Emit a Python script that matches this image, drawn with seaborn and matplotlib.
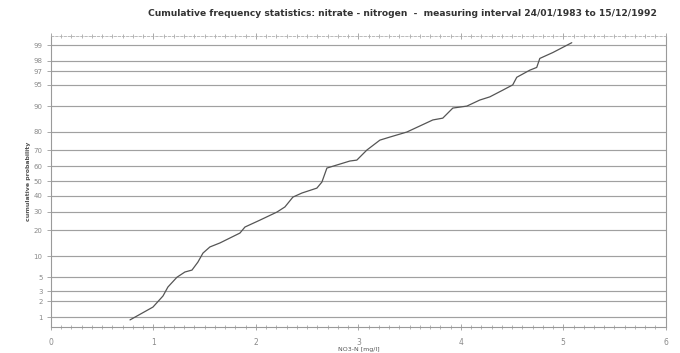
import numpy as np
import matplotlib
matplotlib.use("Agg")
import matplotlib.pyplot as plt
import seaborn as sns
from statistics import NormalDist
from matplotlib.ticker import MultipleLocator, FixedLocator, FixedFormatter

# nitrate-nitrogen concentration [mg/l] and cumulative probability [%]
nitrate_mg_l = [0.771, 0.995, 1.093, 1.141, 1.229, 1.307, 1.376, 1.434, 1.483, 1.551,
                1.649, 1.844, 1.893, 2.039, 2.205, 2.283, 2.361, 2.449, 2.595, 2.644,
                2.693, 2.917, 2.985, 3.083, 3.210, 3.307, 3.473, 3.727, 3.824, 3.922,
                4.059, 4.185, 4.283, 4.410, 4.507, 4.546, 4.673, 4.741, 4.771, 4.898,
                5.083]
cum_prob = [0.88, 1.56, 2.47, 3.5, 5.0, 6.0, 6.4, 8.3, 10.9, 13.0,
            14.5, 18.7, 21.6, 25.2, 29.8, 32.9, 39.2, 41.9, 45.2, 49.3,
            58.8, 63.4, 64.0, 70.2, 75.8, 77.4, 79.9, 85.2, 85.9, 89.4,
            90.0, 91.7, 92.5, 94.0, 95.0, 96.2, 97.1, 97.4, 98.2, 98.6,
            99.1]

prob_ticks = [1, 2, 3, 5, 10, 20, 30, 40, 50, 60, 70, 80, 90, 95, 97, 98, 99]
x_ticks = [0, 1, 2, 3, 4, 5, 6]

_nd = NormalDist()
_ppf = np.vectorize(lambda p: _nd.inv_cdf(p) if np.isfinite(p) else np.nan, otypes=[float])
_cdf = np.vectorize(lambda z: _nd.cdf(z) if np.isfinite(z) else np.nan, otypes=[float])


def prob_forward(p):
    p = np.clip(np.asarray(p, dtype=float) / 100.0, 1e-9, 1 - 1e-9)
    return _ppf(p)


def prob_inverse(z):
    return _cdf(np.asarray(z, dtype=float)) * 100.0


sns.set_style("white")
plt.rcParams['font.family'] = ['DejaVu Sans']

fig = plt.figure(figsize=(6.8, 3.53), dpi=100)
ax = fig.add_axes([0.075, 0.0737, 0.904, 0.824])

ax.set_yscale('function', functions=(prob_forward, prob_inverse))

# horizontal probability grid
for p in prob_ticks:
    ax.axhline(p, color='#a0a0a0', linewidth=0.85, zorder=1)

sns.lineplot(x=nitrate_mg_l, y=cum_prob, sort=False, color='#555555',
             linewidth=0.9, ax=ax, zorder=3)

ax.set_xlim(0, 6)
ax.set_ylim(0.63, 99.34)

ax.yaxis.set_major_locator(FixedLocator(prob_ticks))
ax.yaxis.set_major_formatter(FixedFormatter([str(p) for p in prob_ticks]))
ax.yaxis.set_minor_locator(FixedLocator([]))
ax.set_xticks(x_ticks)
ax.xaxis.set_minor_locator(MultipleLocator(0.1))

ax.tick_params(axis='y', which='major', labelsize=5, labelcolor='#8a8a8a',
               color='#9a9a9a', length=3, width=0.6, pad=3, left=True)
ax.tick_params(axis='x', which='major', labelsize=5.5, labelcolor='#8a8a8a',
               color='#9a9a9a', length=4, width=0.6, pad=6, direction='inout',
               bottom=True, top=True)
ax.tick_params(axis='x', which='minor', color='#9a9a9a', length=3, width=0.5,
               direction='inout', bottom=True, top=True)

for side in ['left', 'right', 'bottom']:
    ax.spines[side].set_color('#9a9a9a')
    ax.spines[side].set_linewidth(0.8)
ax.spines['top'].set_color('#b0b0b0')
ax.spines['top'].set_linewidth(0.6)
ax.spines['top'].set_linestyle((0, (3, 2)))

ax.set_xlabel('NO3-N [mg/l]', fontsize=4.5, color='#555555', labelpad=0)
ax.xaxis.set_label_coords(0.5, -0.07)
ax.set_ylabel('cumulative probability', fontsize=4.5, color='#555555',
              fontweight='bold', labelpad=2)

fig.suptitle('Cumulative frequency statistics: nitrate - nitrogen  -  '
             'measuring interval 24/01/1983 to 15/12/1992',
             x=0.592, y=0.975, fontsize=6.6, fontweight='bold', color='#333333')

fig.savefig('out.png', dpi=100)
